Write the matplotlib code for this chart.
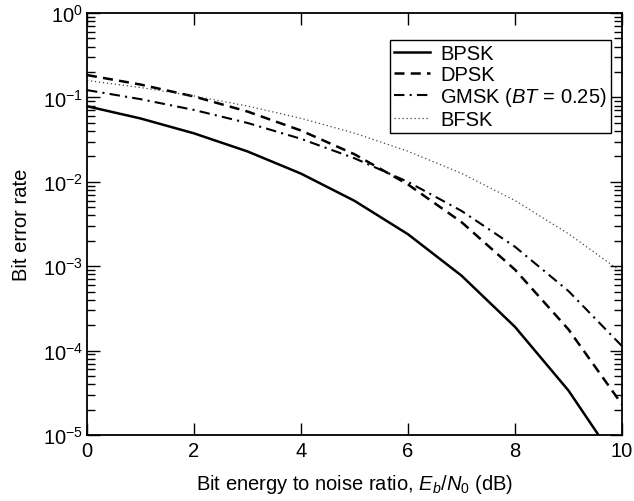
import matplotlib
matplotlib.use('Agg')
import matplotlib.pyplot as plt
from matplotlib.ticker import LogLocator, NullFormatter

plt.rcParams['font.family'] = ['Liberation Sans', 'DejaVu Sans']
plt.rcParams['mathtext.fontset'] = 'custom'
plt.rcParams['mathtext.rm'] = 'Liberation Sans'
plt.rcParams['mathtext.it'] = 'Liberation Sans:italic'
plt.rcParams['mathtext.bf'] = 'Liberation Sans:bold'

# Eb/N0 in dB
snr_db = [0, 1, 2, 3, 4, 5, 6, 7, 8, 9, 10]

# bit error rates
ber_bpsk = [0.0786, 0.0563, 0.0375, 0.0229, 0.0125, 0.00595, 0.00239, 0.000773, 0.000191, 3.36e-5, 3.87e-6]
ber_dpsk = [0.184, 0.142, 0.1025, 0.068, 0.0405, 0.0212, 0.0093, 0.00333, 0.00091, 0.000178, 2.3e-5]
ber_gmsk = [0.122, 0.0953, 0.0710, 0.0498, 0.0323, 0.0190, 0.00998, 0.00452, 0.0017, 0.000507, 0.000113]
ber_bfsk = [0.1587, 0.131, 0.104, 0.079, 0.0565, 0.0377, 0.023, 0.0126, 0.006, 0.00242, 0.00085]

labels = ['BPSK', 'DPSK', r'GMSK ($BT$ = 0.25)', 'BFSK']

fs = 14.5

fig = plt.figure(figsize=(6.34, 5.02), dpi=100)
ax = fig.add_axes([87 / 634, 66 / 502, 535 / 634, 422 / 502])

ax.semilogy(snr_db, ber_bpsk, color='black', lw=1.8, ls='-', label=labels[0])
ax.semilogy(snr_db, ber_dpsk, color='black', lw=1.8, ls=(0, (4, 2.5)), label=labels[1])
ax.semilogy(snr_db, ber_gmsk, color='black', lw=1.5, ls=(0, (5, 2.5, 1, 2.5)), label=labels[2])
ax.semilogy(snr_db, ber_bfsk, color='#444444', lw=0.9, ls=(0, (1, 2.2)), label=labels[3])

ax.set_xlim(0, 10)
ax.set_ylim(1e-5, 1)
ax.set_xticks([0, 2, 4, 6, 8, 10])
ax.yaxis.set_major_locator(LogLocator(base=10, numticks=10))
ax.yaxis.set_minor_locator(LogLocator(base=10, subs=range(2, 10), numticks=20))
ax.yaxis.set_minor_formatter(NullFormatter())

ax.tick_params(which='both', direction='in', top=True, right=True, labelsize=fs, width=1.0)
ax.tick_params(axis='x', which='major', length=8.5, pad=4)
ax.tick_params(axis='y', which='major', length=9, pad=3)
ax.tick_params(axis='y', which='minor', length=5.5)
for s in ax.spines.values():
    s.set_linewidth(1.3)

ax.set_xlabel(r'Bit energy to noise ratio, $E_b/N_0$ (dB)', fontsize=fs, labelpad=9)
ax.set_ylabel('Bit error rate', fontsize=fs, labelpad=8)

leg = ax.legend(loc='upper right', bbox_to_anchor=(0.979, 0.936), fontsize=fs,
                fancybox=False, framealpha=1, edgecolor='black',
                handlelength=1.8, handletextpad=0.5, labelspacing=0.08,
                borderpad=0.2, borderaxespad=0)
leg.get_frame().set_linewidth(1.0)

fig.savefig('out.png', dpi=100)
